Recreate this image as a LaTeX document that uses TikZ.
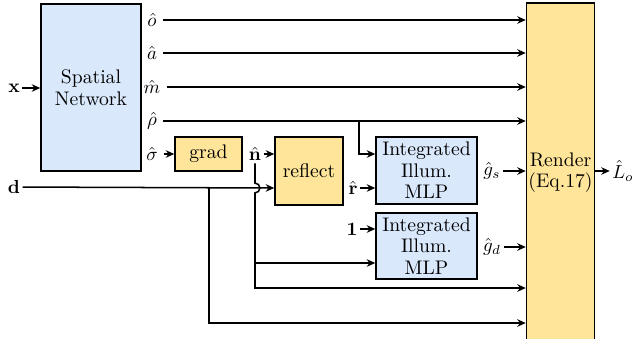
\documentclass[tikz,border=0pt]{standalone}
\usepackage{amsmath}
\usetikzlibrary{arrows.meta}
\definecolor{netblue}{HTML}{DAE8FC}
\definecolor{opyellow}{HTML}{FFE599}
\begin{document}
\begin{tikzpicture}[x=0.0186cm, y=-0.0186cm, >={Stealth[length=4.5pt,width=4pt]}, line width=0.8pt,
  every node/.style={font=\fontsize{10.4}{11.4}\selectfont},
  bluebox/.style={draw, fill=netblue, align=center, inner sep=1pt},
  yellowbox/.style={draw, fill=opyellow, align=center, inner sep=1pt},
  lbl/.style={inner sep=1pt}]
\useasboundingbox (0,0) rectangle (636,338);
% blocks
\node[bluebox, minimum width=1.86cm, minimum height=3.106cm] (spatial) at (91,87.5) {Spatial\\Network};
\node[yellowbox, minimum width=1.246cm, minimum height=0.632cm] (grad) at (208.5,154) {grad};
\node[yellowbox, minimum width=1.265cm, minimum height=1.265cm] (reflect) at (309,171) {reflect};
\node[bluebox, minimum width=1.879cm, minimum height=1.246cm] (mlps) at (426.5,170.5) {Integrated\\Illum.\\MLP};
\node[bluebox, minimum width=1.879cm, minimum height=1.228cm] (mlpd) at (426.5,246) {Integrated\\Illum.\\MLP};
\node[yellowbox, minimum width=1.246cm, minimum height=6.305cm] (render) at (560.5,172.5) {Render\\(Eq.17)};
% labels
\node[lbl] (x) at (14,88) {$\mathbf{x}$};
\node[lbl] (d) at (14,187) {$\mathbf{d}$};
\node[lbl] (o) at (152,20) {$\hat{o}$};
\node[lbl] (a) at (152,53) {$\hat{a}$};
\node[lbl] (m) at (152,87) {$\hat{m}$};
\node[lbl] (rho) at (152,121) {$\hat{\rho}$};
\node[lbl] (sigma) at (152,154) {$\hat{\sigma}$};
\node[lbl] (n) at (255,154) {$\hat{\mathbf{n}}$};
\node[lbl] (r) at (353,188) {$\hat{\mathbf{r}}$};
\node[lbl] (one) at (352,229) {$\mathbf{1}$};
\node[lbl] (gs) at (492,171) {$\hat{g}_s$};
\node[lbl] (gd) at (492,247) {$\hat{g}_d$};
\node[lbl] (lo) at (623,171) {$\hat{L}_o$};
\coordinate (rb) at (359,121);
\coordinate (rowr) at (0,154);
\coordinate (rown) at (0,263);
\coordinate (rowe) at (0,288);
\coordinate (dbr) at (209,188);
\coordinate (rowf) at (0,323);
% connectors
\draw[->] (x) -- (x -| spatial.west);
\foreach \k in {o,a,m,rho}
  \draw[->] ([xshift=2pt]\k.east) -- (\k -| render.west);
\draw[->] (rb) |- (rowr -| mlps.west);
\draw[->] ([xshift=2pt]sigma.east) -- (grad);
\draw[->] (n) -- (n -| reflect.west);
\draw[->] (d) -- (dbr -| reflect.west);
\draw[->] (dbr) |- (rowf -| render.west);
\draw[->] (n.south) -- ([yshift=2.6pt]n.south |- dbr) arc[start angle=90, end angle=-90, radius=2.6pt] |- (rowe -| render.west);
\draw[->] (n.south |- rown) -- (rown -| mlpd.west);
\draw[->] (r) -- (r -| mlps.west);
\draw[->] (one) -- (one -| mlpd.west);
\draw[->] (gs) -- (gs -| render.west);
\draw[->] (gd) -- (gd -| render.west);
\draw[->] (render.east |- lo) -- (lo);
\end{tikzpicture}
\end{document}
